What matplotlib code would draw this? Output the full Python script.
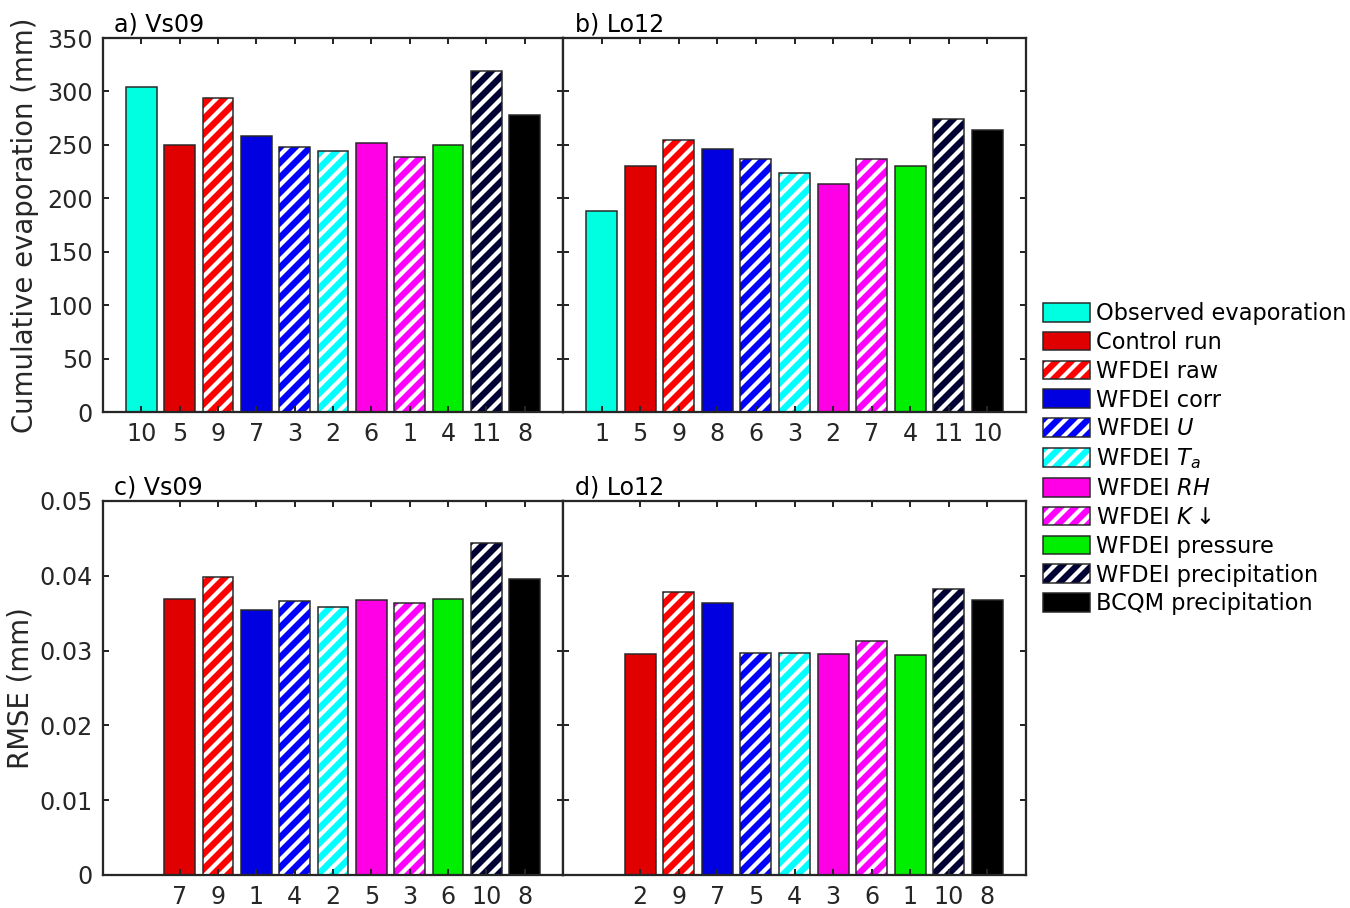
import matplotlib
matplotlib.use("Agg")
import matplotlib.pyplot as plt
from matplotlib.patches import Patch

# series (legend order)
SERIES = ['Observed evaporation', 'Control run', 'WFDEI raw', 'WFDEI corr',
          'WFDEI $U$', 'WFDEI $T_a$', 'WFDEI $RH$', r'WFDEI $K{\downarrow}$',
          'WFDEI pressure', 'WFDEI precipitation', 'BCQM precipitation']
COLORS = ['#00FFE1', '#E00000', '#FF0000', '#0000E0', '#0000FF', '#00FFFF',
          '#FF00E6', '#FF00FF', '#00EE00', '#000033', '#000000']
HATCHED = [False, False, True, False, True, True, False, True, False, True, False]

# panel data (bars in series order, tick labels are ranks)
rank_a = ['10', '5', '9', '7', '3', '2', '6', '1', '4', '11', '8']
evap_vs09 = [304, 250, 294, 258, 248, 244, 252, 239, 250, 319, 278]

rank_b = ['1', '5', '9', '8', '6', '3', '2', '7', '4', '11', '10']
evap_lo12 = [188, 230, 255, 246, 237, 224, 213, 237, 230, 274, 264]

rank_c = ['7', '9', '1', '4', '2', '5', '3', '6', '10', '8']
rmse_vs09 = [0.0369, 0.0398, 0.0354, 0.0366, 0.0358, 0.0367, 0.0364, 0.0369, 0.0444, 0.0396]

rank_d = ['2', '9', '7', '5', '4', '3', '6', '1', '10', '8']
rmse_lo12 = [0.0295, 0.0379, 0.0364, 0.0297, 0.0297, 0.0296, 0.0313, 0.0294, 0.0383, 0.0367]

plt.rcParams['font.family'] = 'DejaVu Sans'
plt.rcParams['hatch.linewidth'] = 1.7
EDGE = '#262626'
HATCH = '////'


def draw_panel(ax, values, ranks, first, title):
    idx = list(range(first, len(SERIES)))
    pos = [i + 1 for i in idx]
    for p, v, i in zip(pos, values, idx):
        if HATCHED[i]:
            ax.bar(p, v, 0.8, color=COLORS[i], edgecolor='white', hatch=HATCH, linewidth=0)
        else:
            ax.bar(p, v, 0.8, color=COLORS[i], linewidth=0)
        ax.bar(p, v, 0.8, fill=False, edgecolor=EDGE, linewidth=0.6)
    ax.set_xlim(0, 12)
    ax.set_xticks(pos, ranks)
    ax.tick_params(direction='in', top=True, right=True, length=2.2, width=0.8,
                   labelsize=9.5, colors=EDGE, pad=4)
    for s in ax.spines.values():
        s.set_linewidth(0.9)
        s.set_color(EDGE)
    ax.text(0.025, 1.004, title, transform=ax.transAxes, ha='left', va='bottom',
            fontsize=9.5, color='black')


fig = plt.figure(figsize=(7.5, 908 / 180), dpi=180)
x0, x1, x2 = 103 / 1350, 563 / 1350, 1026 / 1350
H = 908
top_row = (1 - 412 / H, (412 - 38) / H)
bot_row = (1 - 875 / H, (875 - 501) / H)

ax_a = fig.add_axes([x0, top_row[0], x1 - x0, top_row[1]])
ax_b = fig.add_axes([x1, top_row[0], x2 - x1, top_row[1]])
ax_c = fig.add_axes([x0, bot_row[0], x1 - x0, bot_row[1]])
ax_d = fig.add_axes([x1, bot_row[0], x2 - x1, bot_row[1]])

draw_panel(ax_a, evap_vs09, rank_a, 0, 'a) Vs09')
draw_panel(ax_b, evap_lo12, rank_b, 0, 'b) Lo12')
draw_panel(ax_c, rmse_vs09, rank_c, 1, 'c) Vs09')
draw_panel(ax_d, rmse_lo12, rank_d, 1, 'd) Lo12')

for ax in (ax_a, ax_b):
    ax.set_ylim(0, 350)
    ax.set_yticks(range(0, 351, 50))
for ax in (ax_c, ax_d):
    ax.set_ylim(0, 0.05)
    ax.set_yticks([0, 0.01, 0.02, 0.03, 0.04, 0.05], ['0', '0.01', '0.02', '0.03', '0.04', '0.05'])
ax_b.tick_params(labelleft=False)
ax_d.tick_params(labelleft=False)

ax_a.set_ylabel('Cumulative evaporation (mm)', fontsize=11, color=EDGE)
ax_c.set_ylabel('RMSE (mm)', fontsize=11, color=EDGE)
ax_a.yaxis.set_label_coords(-0.14, 0.5)
ax_c.yaxis.set_label_coords(-0.148, 0.5)

handles = []
for i in range(len(SERIES)):
    if HATCHED[i]:
        h = (Patch(facecolor=COLORS[i], edgecolor='white', hatch=HATCH, linewidth=0),
             Patch(fill=False, edgecolor=EDGE, linewidth=0.6))
    else:
        h = (Patch(facecolor=COLORS[i], linewidth=0),
             Patch(fill=False, edgecolor=EDGE, linewidth=0.6))
    handles.append(h)

fig.legend(handles, SERIES, loc='upper left', bbox_to_anchor=(1043 / 1350, 1 - 302 / H),
           frameon=False, fontsize=9, handlelength=2.1, handleheight=0.9,
           handletextpad=0.27, labelspacing=0.26, borderaxespad=0, borderpad=0)

fig.savefig('out.png', dpi=180)
